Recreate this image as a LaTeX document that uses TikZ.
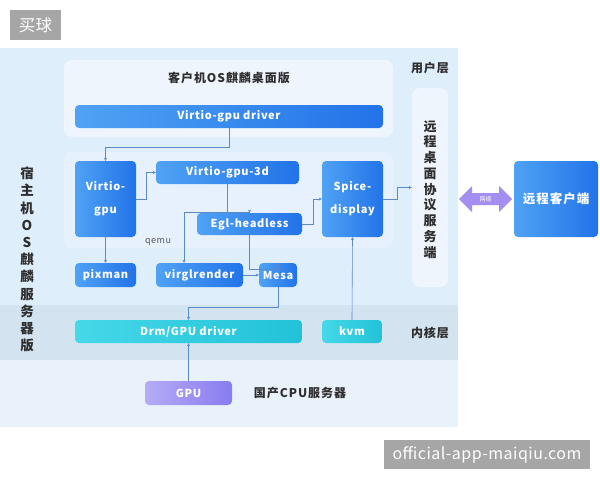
\documentclass[tikz,border=0pt]{standalone}
\usepackage{fontspec}
\setmainfont{Noto Sans CJK SC}
\newfontfamily\spfont{Noto Sans CJK SC}[LetterSpace=6]
\newfontfamily\cjkspfont{Noto Sans CJK SC}[LetterSpace=8]
\newfontfamily\wmfont{Noto Sans CJK SC}[LetterSpace=3]
\usetikzlibrary{arrows.meta}
\definecolor{panelTop}{HTML}{DFEEFB}
\definecolor{panelBand}{HTML}{D3E3F0}
\definecolor{panelBot}{HTML}{E9F1FB}
\definecolor{guestBg}{HTML}{EFF5FC}
\definecolor{qemuBg}{HTML}{E7F1FD}
\definecolor{blueL}{HTML}{4FA2F4}
\definecolor{blueR}{HTML}{2273E8}
\definecolor{cyanL}{HTML}{45D8E8}
\definecolor{cyanR}{HTML}{22C2D8}
\definecolor{purL}{HTML}{B5ABF7}
\definecolor{purR}{HTML}{887CEF}
\definecolor{arrowPur}{HTML}{A58EF1}
\definecolor{lineC}{HTML}{5A8BC8}
\definecolor{txt}{HTML}{2E2E2E}
\definecolor{wm}{HTML}{A6A6A6}
\tikzset{
  bbox/.style={rounded corners=4pt, inner sep=0pt, text=white, font=\spfont\bfseries\fontsize{11}{12}\selectfont,
    left color=blueL, right color=blueR, draw=none},
  tallbox/.style={bbox, align=center, font=\spfont\bfseries\fontsize{11}{23}\selectfont},
  cbox/.style={bbox, left color=cyanL, right color=cyanR},
  pbox/.style={bbox, left color=purL, right color=purR},
  conn/.style={draw=lineC, line width=0.6pt, -{Stealth[length=3pt,width=3pt]}},
  plain/.style={draw=lineC, line width=0.6pt},
  lbl/.style={text=txt, font=\cjkspfont\bfseries\fontsize{12}{14}\selectfont, inner sep=0pt},
  wmbox/.style={fill=wm, text=white, inner sep=0pt},
}
\begin{document}
\begin{tikzpicture}[x=1pt,y=-1pt]
\useasboundingbox (0,0) rectangle (600,480);
\fill[white] (0,0) rectangle (600,480);
% panel
\fill[panelTop] (0,48) rectangle (458,305);
\fill[panelBand] (0,305) rectangle (458,360);
\fill[panelBot] (0,360) rectangle (458,427);
% guest & qemu boxes
\fill[guestBg, rounded corners=8pt] (64,60) rectangle (393,137);
\fill[qemuBg, rounded corners=8pt] (64,152) rectangle (393,248);
% remote server box
\node[fill=guestBg, rounded corners=8pt, minimum width=36pt, minimum height=199pt, inner sep=0pt] (rds) at (430,187.5) {};
\node[lbl, font=\bfseries\fontsize{13}{15.75}\selectfont, align=center] (rdst) at (430,189.5) {远\\程\\桌\\面\\协\\议\\服\\务\\端};
% labels
\node[lbl] (guestt) at (229,78) {客户机OS麒麟桌面版};
\node[lbl] (userl) at (430,68) {用户层};
\node[lbl] (kernl) at (430,333) {内核层};
\node[lbl] (cpu) at (300,393) {国产CPU服务器};
\node[text=txt!80, font=\spfont\fontsize{9}{10}\selectfont, inner sep=0pt] (qemut) at (158,242) {qemu};
\node[lbl, font=\bfseries\fontsize{13.5}{17.2}\selectfont, align=center] (host) at (27,259.5) {宿\\主\\机\\O\\S\\麒\\麟\\服\\务\\器\\版};
% boxes
\node[bbox, minimum width=308pt, minimum height=23pt] (vdrv) at (229,116.5) {Virtio-gpu driver};
\node[tallbox, minimum width=61pt, minimum height=76pt] (vgpu) at (105.5,199) {Virtio-\\gpu};
\node[bbox, minimum width=143pt, minimum height=23pt] (v3d) at (227.5,172.5) {Virtio-gpu-3d};
\node[bbox, minimum width=105pt, minimum height=22pt] (egl) at (249.5,224) {Egl-headless};
\node[tallbox, minimum width=61pt, minimum height=76pt] (spice) at (352.5,199) {Spice-\\display};
\node[bbox, minimum width=61pt, minimum height=24pt] (pixman) at (105.5,275) {pixman};
\node[bbox, minimum width=87pt, minimum height=24pt] (virgl) at (199.5,275) {virglrender};
\node[bbox, minimum width=38pt, minimum height=24pt] (mesa) at (278,275) {Mesa};
\node[cbox, minimum width=227pt, minimum height=23pt] (drm) at (188.5,331.5) {Drm/GPU driver};
\node[cbox, minimum width=60pt, minimum height=23pt] (kvm) at (352,331.5) {kvm};
\node[pbox, minimum width=87pt, minimum height=24pt] (gpu) at (188.5,393) {GPU};
\node[bbox, minimum width=84pt, minimum height=76pt, font=\cjkspfont\bfseries\fontsize{12.5}{14}\selectfont] (client) at (556,199) {远程客户端};
% double arrow
\fill[arrowPur] (459,199) -- (472,186) -- (472,193) -- (499,193) -- (499,186) -- (512,199) -- (499,212) -- (499,205) -- (472,205) -- (472,212) -- cycle;
\node[text=white, font=\fontsize{6}{7}\selectfont, inner sep=0pt] (net) at (485.5,199) {网络};
% connectors
\draw[conn] (vdrv.south) -- (vdrv.south |- 0,147) -| (vgpu.north);
\draw[conn] (vgpu.east) -- ++(10,0) |- (v3d.west);
\draw[plain] (v3d.south) -- ++(0,28.5) coordinate (br);
\draw[conn] (br) -| (egl.north);
\draw[conn] (br) -| ([xshift=-15.5pt]virgl.north);
\draw[conn] (egl.south) -- ++(0,34) -| (mesa.north);
\draw[conn] (egl.east) -- ++(11,0) |- (spice.west);
\draw[conn] (spice.east) -- ++(14,0) |- (rds.west);
\draw[conn] (virgl.east) -- (mesa.west);
\draw[conn] (mesa.south) -- ++(0,20) -| (drm.north);
\draw[conn] (gpu.north) -- (drm.south);
\draw[conn] (vgpu.south) -- (pixman.north);
\draw[conn] (kvm.north) -- (spice.south);
% watermarks
\node[wmbox, minimum width=51pt, minimum height=30pt, font=\wmfont\fontsize{16.5}{18}\selectfont] (wm1) at (35.5,25) {买球};
\node[wmbox, minimum width=206pt, minimum height=29pt, font=\wmfont\fontsize{16}{18}\selectfont] (wm2) at (487,454.5) {official-app-maiqiu.com};
\end{tikzpicture}
\end{document}
